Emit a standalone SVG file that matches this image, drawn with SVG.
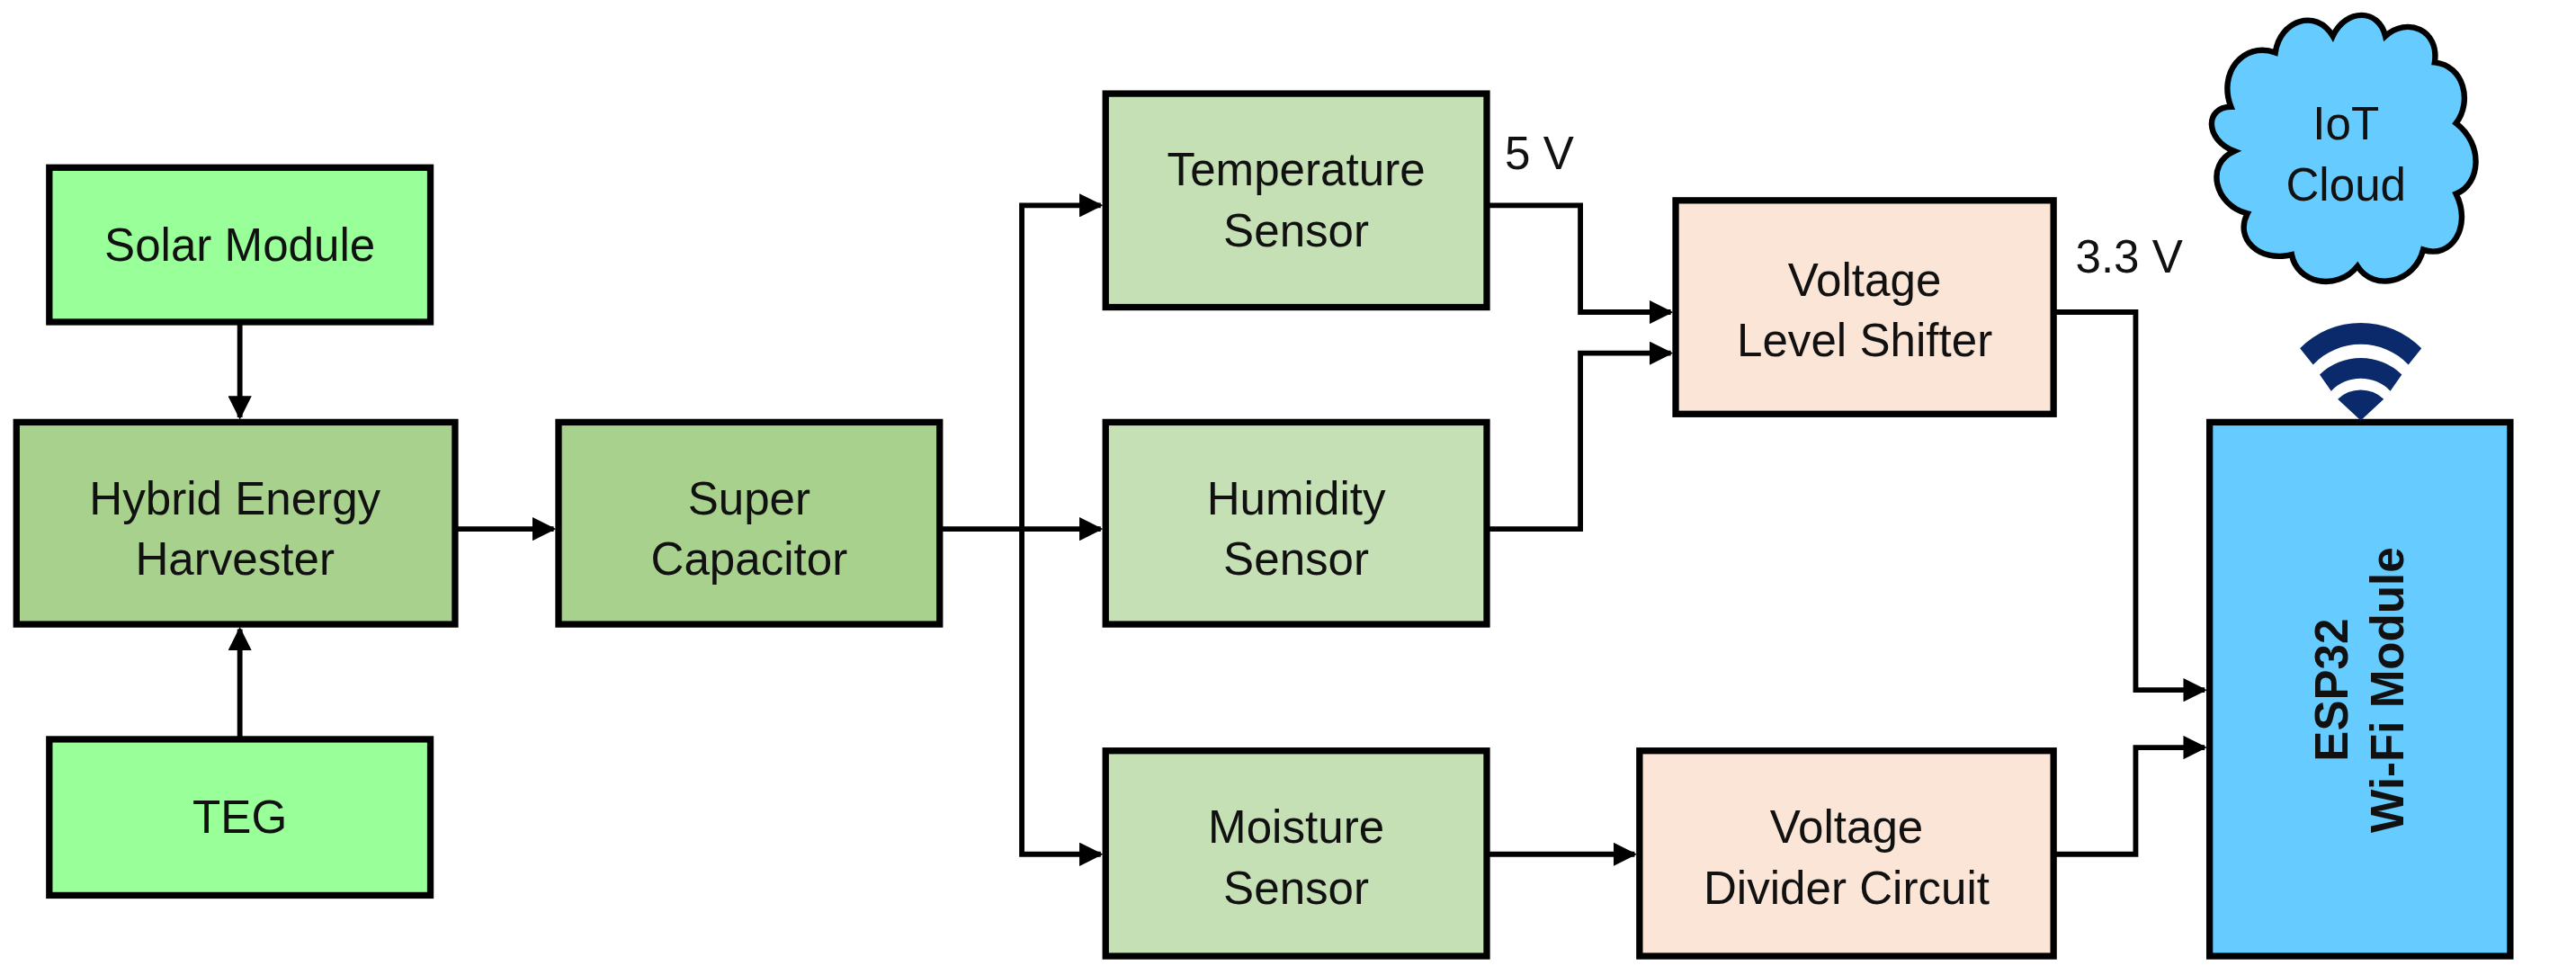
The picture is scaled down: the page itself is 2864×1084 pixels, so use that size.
<svg xmlns="http://www.w3.org/2000/svg" width="2864" height="1084" viewBox="0 0 2864 1084">
<style>
.b{stroke:#000;stroke-width:4}
.t{font-family:"Liberation Sans",Arial,sans-serif;font-size:28px;fill:#111;text-anchor:middle}
.c{fill:none;stroke:#000;stroke-width:3.2}
.g1{fill:#99ff99}.g2{fill:#a9d18e}.g3{fill:#c5e0b4}.pk{fill:#fbe5d6}.bl{fill:#66ccff}
</style>
<defs>
<marker id="a" viewBox="0 0 10 10" refX="9" refY="5" markerWidth="4.5" markerHeight="4.5" orient="auto" markerUnits="strokeWidth"><path d="M0,0L10,5L0,10z" fill="#000"/></marker>
</defs>
<rect width="2864" height="1084" fill="#fff"/>
<g transform="scale(1.8265)">
<g id="solar"><rect class="b g1" x="30" y="102" width="232" height="94"/><text class="t" x="146" y="159">Solar Module</text></g>
<g id="hybrid"><rect class="b g2" x="10" y="257" width="267" height="123"/><text class="t" x="143" y="313">Hybrid Energy</text><text class="t" x="143" y="350">Harvester</text></g>
<g id="teg"><rect class="b g1" x="30" y="450" width="232" height="95"/><text class="t" x="146" y="507">TEG</text></g>
<g id="super"><rect class="b g2" x="340" y="257" width="232" height="123"/><text class="t" x="456" y="313">Super</text><text class="t" x="456" y="350">Capacitor</text></g>
<g id="temp"><rect class="b g3" x="673" y="57" width="232" height="130"/><text class="t" x="789" y="113">Temperature</text><text class="t" x="789" y="150">Sensor</text></g>
<g id="hum"><rect class="b g3" x="673" y="257" width="232" height="123"/><text class="t" x="789" y="313">Humidity</text><text class="t" x="789" y="350">Sensor</text></g>
<g id="moist"><rect class="b g3" x="673" y="457" width="232" height="125"/><text class="t" x="789" y="513">Moisture</text><text class="t" x="789" y="550">Sensor</text></g>
<g id="vls"><rect class="b pk" x="1020" y="122" width="230" height="130"/><text class="t" x="1135" y="180">Voltage</text><text class="t" x="1135" y="217">Level Shifter</text></g>
<g id="vdc"><rect class="b pk" x="998" y="457" width="252" height="125"/><text class="t" x="1124" y="513">Voltage</text><text class="t" x="1124" y="550">Divider Circuit</text></g>
<g id="esp"><rect class="b bl" x="1345" y="257" width="183" height="325"/><text class="t" transform="translate(1437,420) rotate(-90)" font-weight="bold" y="-8">ESP32</text><text class="t" transform="translate(1437,420) rotate(-90)" font-weight="bold" y="26">Wi-Fi Module</text></g>
<g id="cloud"><path d="M1358,65 C1350,45 1365,25 1385,32 C1388,12 1410,5 1420,22 C1428,5 1448,5 1452,22 C1465,10 1485,18 1482,38 C1500,40 1505,62 1495,75 C1512,88 1510,112 1495,118 C1505,138 1492,158 1475,152 C1470,172 1445,178 1435,162 C1422,178 1398,172 1395,155 C1375,160 1360,145 1368,130 C1348,125 1342,100 1360,92 C1342,85 1342,65 1358,65 Z" fill="#66ccff" stroke="#000" stroke-width="3.5"/><text class="t" x="1428" y="85">IoT</text><text class="t" x="1428" y="122">Cloud</text></g>
<g id="wifi" fill="#0b2a6b"><path d="M1400,212 A52,52 0 0 1 1474,212 L1466,222 A40,40 0 0 0 1408,222 Z"/><path d="M1412,228 A36,36 0 0 1 1462,228 L1455,238 A25,25 0 0 0 1419,238 Z"/><path d="M1423,243 A20,20 0 0 1 1451,243 L1437,256 Z"/></g>
<g id="connectors">
<path class="c" d="M146,196V254" marker-end="url(#a)"/>
<path class="c" d="M146,450V383" marker-end="url(#a)"/>
<path class="c" d="M277,322H337" marker-end="url(#a)"/>
<path class="c" d="M572,322H670" marker-end="url(#a)"/>
<path class="c" d="M622,322V125H670" marker-end="url(#a)"/>
<path class="c" d="M622,322V520H670" marker-end="url(#a)"/>
<path class="c" d="M905,125H962V190H1017" marker-end="url(#a)"/>
<path class="c" d="M905,322H962V215H1017" marker-end="url(#a)"/>
<path class="c" d="M1250,190H1300V420H1342" marker-end="url(#a)"/>
<path class="c" d="M905,520H995" marker-end="url(#a)"/>
<path class="c" d="M1250,520H1300V455H1342" marker-end="url(#a)"/>
<text class="t" x="937" y="103">5 V</text>
<text class="t" x="1296" y="166">3.3 V</text>
</g>
</g>
</svg>
